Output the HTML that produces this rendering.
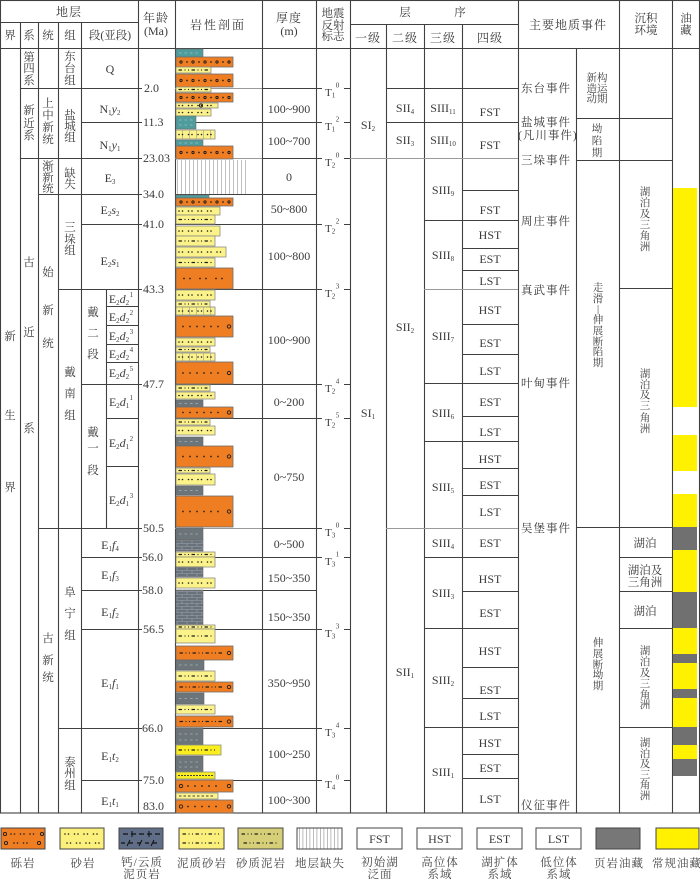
<!DOCTYPE html>
<html><head><meta charset="utf-8">
<style>
html,body{margin:0;padding:0;background:#fff}
svg{display:block}
text{font-family:"Liberation Serif","Noto Serif CJK SC",serif;fill:#3a3a3a}
.c{font-size:11.5px;text-anchor:middle}
.v{font-size:10.5px;text-anchor:middle}
.h{font-size:12px;text-anchor:middle;letter-spacing:1px}
.n{font-size:12px;text-anchor:middle}
.a{font-size:12px}
.e{font-size:11.5px;letter-spacing:1px}
.s{font-size:7px}
.lg{font-size:11.5px;text-anchor:middle;letter-spacing:1px;fill:#444}
.o{fill:#ef7d22;stroke:#6e6e6e;stroke-width:.8}
.y{fill:#fcf28a;stroke:#8c8c80;stroke-width:.8}
.b{fill:#fbee1e;stroke:#8c8c80;stroke-width:.8}
.t{fill:#4f9c9c;stroke:#6e6e6e;stroke-width:.6}
.g{fill:#6c757a;stroke:#666;stroke-width:.6}
.cr1{stroke:#1e1e1e;stroke-width:3.2;stroke-dasharray:0 12;stroke-linecap:round}
.cr2{stroke:#ef7d22;stroke-width:1.3;stroke-dasharray:0 12;stroke-linecap:round}
.cd{stroke:#1e1e1e;stroke-width:1.7;stroke-dasharray:0 12;stroke-linecap:round}
.cd7{stroke:#1e1e1e;stroke-width:1.7;stroke-dasharray:0 7;stroke-linecap:round}
.cds{stroke:#1e1e1e;stroke-width:1.7;stroke-dasharray:0 6 0 10;stroke-linecap:round}
.sn{stroke:#1e1e1e;stroke-width:1.6;stroke-dasharray:0 3.5 0 6;stroke-linecap:round}
.ms{stroke:#1e1e1e;stroke-width:1.2;stroke-dasharray:2.5 3.5 0 3.5 0 3.5;stroke-linecap:round}
.gr{stroke:#a8a690;stroke-dasharray:.7 6.3}
.sh{stroke:#d0d8da;stroke-width:.8;stroke-dasharray:2.5 3;opacity:.6}
.ring{fill:none;stroke:#1e1e1e;stroke-width:.9}
</style></head><body>
<svg width="700" height="879" viewBox="0 0 700 879" xmlns="http://www.w3.org/2000/svg">
<defs>
<pattern id="brick" width="10" height="6" patternUnits="userSpaceOnUse">
<rect width="10" height="6" fill="#69727a"/>
<path d="M0 .5H10M0 3.5H10M2 .5V3.5M7 3.5V6" stroke="#9aa2aa" stroke-width=".6" fill="none"/>
</pattern>
</defs>

<g stroke="#404040" stroke-width="1.1" fill="none">
<rect x="0.5" y="0.5" width="699" height="812.5"/>
<path d="M20.5 22V813M38.5 22V813M58.5 22V813M81.5 22V813M138.5 0V813M175.5 0V813M262.5 0V813M316.5 0V813M350.5 0V813M386.5 24V813M424.5 24V813M462.5 24V813M518.5 0V813M576.5 48V813M619.5 0V813M672.5 0V813M106.5 289V528"/>
<path d="M0 22.5H138M350 24.5H518M0 48.5H700"/>
<path d="M20 88.5H142M262 88.5H322M344 88.5H350M386 88.5H518"/>
<path d="M576 118.5H672"/>
<path d="M81 122.5H142M175 122.5H322M344 122.5H350M386 122.5H518"/>
<path d="M20 158.5H142M262 158.5H322M344 158.5H350"/>
<path d="M576 160.5H672"/>
<path d="M462 190.5H518"/>
<path d="M38 194.5H142M175 194.5H316"/>
<path d="M424 220.5H518"/>
<path d="M81 224.5H142M175 224.5H322M344 224.5H350"/>
<path d="M462 248.5H518M462 270.5H518"/>
<path d="M619 288.5H672"/>
<path d="M58 289.5H142M175 289.5H322M344 289.5H350"/>
<path d="M106 306.5H138M106 325.5H138M106 344.5H138M106 362.5H138"/>
<path d="M462 324.5H518M462 354.5H518"/>
<path d="M81 384.5H142M175 384.5H322M344 384.5H350M424 383.5H518"/>
<path d="M462 416.5H518"/>
<path d="M106 418.5H138M175 418.5H322M344 418.5H350"/>
<path d="M424 441.5H518M106 466.5H138M462 468.5H518M462 495.5H518"/>
<path d="M38 528.5H142M262 528.5H322M344 528.5H350M576 527.5H672"/>
<path d="M81 557.5H142M175 557.5H322M344 557.5H350M424 557.5H518M619 557.5H672"/>
<path d="M81 590.5H142M175 590.5H316M462 591.5H518M619 591.5H672"/>
<path d="M81 629.5H142M175 629.5H322M344 629.5H350M424 628.5H518M619 628.5H672"/>
<path d="M462 667.5H518M462 698.5H518"/>
<path d="M58 728.5H142M175 728.5H322M344 728.5H350M424 727.5H518M619 727.5H672"/>
<path d="M462 754.5H518M462 778.5H518"/>
<path d="M81 780.5H142M175 780.5H322M344 780.5H350"/>
</g>
<g stroke="#9a9a9a" stroke-width="1" fill="none">
<path d="M175 88.5H262M175 158.5H262M350 158.5H518M424 289.5H518M175 528.5H262M386 528.5H518"/>
</g>

<text class="h" x="69" y="16">地层</text>
<text class="c" x="10" y="39">界</text>
<text class="c" x="29" y="39">系</text>
<text class="c" x="48" y="39">统</text>
<text class="c" x="70" y="39">组</text>
<text class="c" x="110" y="39">段(亚段)</text>
<text class="h" x="156" y="22">年龄</text>
<text class="n" x="156" y="35">(Ma)</text>
<text class="h" x="218" y="29" style="letter-spacing:2px">岩性剖面</text>
<text class="h" x="289" y="22">厚度</text>
<text class="n" x="289" y="35">(m)</text>
<text class="c" x="333" y="17">地震</text>
<text class="c" x="333" y="29">反射</text>
<text class="c" x="333" y="40">标志</text>
<text class="c" x="405" y="16">层</text>
<text class="c" x="460" y="16">序</text>
<text class="h" x="368" y="42">一级</text>
<text class="h" x="405" y="42">二级</text>
<text class="h" x="443" y="42">三级</text>
<text class="h" x="490" y="42">四级</text>
<text class="h" x="568" y="29">主要地质事件</text>
<text class="c" x="646" y="22">沉积</text>
<text class="c" x="646" y="34">环境</text>
<text class="c" x="686" y="22">油</text>
<text class="c" x="686" y="34">藏</text>

<text class="c" x="10" y="340">新</text>
<text class="c" x="10" y="419">生</text>
<text class="c" x="10" y="491">界</text>
<text class="c" x="29" y="61">第</text><text class="c" x="29" y="72">四</text><text class="c" x="29" y="84">系</text>
<text class="c" x="29" y="114">新</text><text class="c" x="29" y="127">近</text><text class="c" x="29" y="139">系</text>
<text class="c" x="29" y="266">古</text><text class="c" x="29" y="336">近</text><text class="c" x="29" y="432">系</text>
<text class="c" x="48" y="107">上</text><text class="c" x="48" y="119">中</text><text class="c" x="48" y="131">新</text><text class="c" x="48" y="143">统</text>
<text class="c" x="48" y="170">渐</text><text class="c" x="48" y="181">新</text><text class="c" x="48" y="192">统</text>
<text class="c" x="48" y="276">始</text><text class="c" x="48" y="314">新</text><text class="c" x="48" y="347">统</text>
<text class="c" x="48" y="642">古</text><text class="c" x="48" y="664">新</text><text class="c" x="48" y="681">统</text>
<text class="c" x="70" y="60">东</text><text class="c" x="70" y="72">台</text><text class="c" x="70" y="84">组</text>
<text class="c" x="70" y="119">盐</text><text class="c" x="70" y="130">城</text><text class="c" x="70" y="141">组</text>
<text class="c" x="70" y="177">缺</text><text class="c" x="70" y="188">失</text>
<text class="c" x="70" y="231">三</text><text class="c" x="70" y="243">垛</text><text class="c" x="70" y="254">组</text>
<text class="c" x="70" y="376">戴</text><text class="c" x="70" y="397">南</text><text class="c" x="70" y="419">组</text>
<text class="c" x="70" y="596">阜</text><text class="c" x="70" y="617">宁</text><text class="c" x="70" y="639">组</text>
<text class="c" x="70" y="766">泰</text><text class="c" x="70" y="777">州</text><text class="c" x="70" y="789">组</text>
<text class="n" x="110" y="73">Q</text>
<text class="n" x="110" y="113">N<tspan class="s" dy="2">1</tspan><tspan font-style="italic" dy="-2">y</tspan><tspan class="s" dy="2">2</tspan></text>
<text class="n" x="110" y="149">N<tspan class="s" dy="2">1</tspan><tspan font-style="italic" dy="-2">y</tspan><tspan class="s" dy="2">1</tspan></text>
<text class="n" x="110" y="182">E<tspan class="s" dy="2">3</tspan></text>
<text class="n" x="110" y="214">E<tspan class="s" dy="2">2</tspan><tspan font-style="italic" dy="-2">s</tspan><tspan class="s" dy="2">2</tspan></text>
<text class="n" x="110" y="265">E<tspan class="s" dy="2">2</tspan><tspan font-style="italic" dy="-2">s</tspan><tspan class="s" dy="2">1</tspan></text>
<text class="c" x="93" y="316">戴</text><text class="c" x="93" y="337">二</text><text class="c" x="93" y="358">段</text>
<text class="c" x="93" y="436">戴</text><text class="c" x="93" y="452">一</text><text class="c" x="93" y="474">段</text>
<text class="n" x="121" y="303">E<tspan class="s" dy="2">2</tspan><tspan font-style="italic" dy="-2">d</tspan><tspan class="s" dy="2">2</tspan><tspan class="s" dx="0.5" dy="-8">1</tspan></text>
<text class="n" x="121" y="321">E<tspan class="s" dy="2">2</tspan><tspan font-style="italic" dy="-2">d</tspan><tspan class="s" dy="2">2</tspan><tspan class="s" dx="0.5" dy="-8">2</tspan></text>
<text class="n" x="121" y="340">E<tspan class="s" dy="2">2</tspan><tspan font-style="italic" dy="-2">d</tspan><tspan class="s" dy="2">2</tspan><tspan class="s" dx="0.5" dy="-8">3</tspan></text>
<text class="n" x="121" y="358">E<tspan class="s" dy="2">2</tspan><tspan font-style="italic" dy="-2">d</tspan><tspan class="s" dy="2">2</tspan><tspan class="s" dx="0.5" dy="-8">4</tspan></text>
<text class="n" x="121" y="377">E<tspan class="s" dy="2">2</tspan><tspan font-style="italic" dy="-2">d</tspan><tspan class="s" dy="2">2</tspan><tspan class="s" dx="0.5" dy="-8">5</tspan></text>
<text class="n" x="121" y="406">E<tspan class="s" dy="2">2</tspan><tspan font-style="italic" dy="-2">d</tspan><tspan class="s" dy="2">1</tspan><tspan class="s" dx="0.5" dy="-8">1</tspan></text>
<text class="n" x="121" y="447">E<tspan class="s" dy="2">2</tspan><tspan font-style="italic" dy="-2">d</tspan><tspan class="s" dy="2">1</tspan><tspan class="s" dx="0.5" dy="-8">2</tspan></text>
<text class="n" x="121" y="504">E<tspan class="s" dy="2">2</tspan><tspan font-style="italic" dy="-2">d</tspan><tspan class="s" dy="2">1</tspan><tspan class="s" dx="0.5" dy="-8">3</tspan></text>
<text class="n" x="110" y="549">E<tspan class="s" dy="2">1</tspan><tspan font-style="italic" dy="-2">f</tspan><tspan class="s" dy="2">4</tspan></text>
<text class="n" x="110" y="579">E<tspan class="s" dy="2">1</tspan><tspan font-style="italic" dy="-2">f</tspan><tspan class="s" dy="2">3</tspan></text>
<text class="n" x="110" y="616">E<tspan class="s" dy="2">1</tspan><tspan font-style="italic" dy="-2">f</tspan><tspan class="s" dy="2">2</tspan></text>
<text class="n" x="110" y="687">E<tspan class="s" dy="2">1</tspan><tspan font-style="italic" dy="-2">f</tspan><tspan class="s" dy="2">1</tspan></text>
<text class="n" x="110" y="760">E<tspan class="s" dy="2">1</tspan><tspan font-style="italic" dy="-2">t</tspan><tspan class="s" dy="2">2</tspan></text>
<text class="n" x="110" y="805">E<tspan class="s" dy="2">1</tspan><tspan font-style="italic" dy="-2">t</tspan><tspan class="s" dy="2">1</tspan></text>

<text class="a" x="144" y="92">2.0</text>
<text class="a" x="143" y="126">11.3</text>
<text class="a" x="143" y="162">23.03</text>
<text class="a" x="143" y="198">34.0</text>
<text class="a" x="143" y="228">41.0</text>
<text class="a" x="143" y="293">43.3</text>
<text class="a" x="143" y="388">47.7</text>
<text class="a" x="143" y="532">50.5</text>
<text class="a" x="142" y="561">56.0</text>
<text class="a" x="142" y="594">58.0</text>
<text class="a" x="143" y="633">56.5</text>
<text class="a" x="142" y="732">66.0</text>
<text class="a" x="143" y="784">75.0</text>
<text class="a" x="143" y="810">83.0</text>

<g>
<rect class="t" x="176" y="49" width="27" height="8"/><line class="sh" x1="179" y1="53" x2="200" y2="53"/>
<rect class="o" x="176" y="57" width="57" height="10"/><line class="cr1" x1="181" y1="62" x2="232" y2="62"/><line class="cr2" x1="181" y1="62" x2="232" y2="62"/><line class="cd" x1="187" y1="62" x2="232" y2="62"/>
<rect class="y" x="176" y="67" width="35" height="6"/><line class="ms" x1="179" y1="70" x2="208" y2="70"/>
<rect class="o" x="176" y="74" width="57" height="13"/><line class="cr1" x1="181" y1="80.5" x2="232" y2="80.5"/><line class="cr2" x1="181" y1="80.5" x2="232" y2="80.5"/><line class="cd" x1="187" y1="80.5" x2="232" y2="80.5"/>
<rect class="y" x="176" y="87" width="35" height="5"/><line class="ms" x1="179" y1="89.5" x2="208" y2="89.5"/>
<rect class="o" x="176" y="93" width="57" height="9"/><line class="cr1" x1="181" y1="97.5" x2="232" y2="97.5"/><line class="cr2" x1="181" y1="97.5" x2="232" y2="97.5"/><line class="cd" x1="187" y1="97.5" x2="232" y2="97.5"/>
<rect class="y" x="176" y="103" width="42" height="5"/><line class="sn" x1="179" y1="105.5" x2="215" y2="105.5"/><circle class="ring" cx="201" cy="105.5" r="1.6"/>
<rect class="y" x="176" y="109" width="35" height="7"/><line class="sn" x1="179" y1="112.5" x2="208" y2="112.5"/>
<rect class="t" x="176" y="116" width="20" height="13"/><line class="sh" x1="179" y1="120" x2="194" y2="120"/><line class="sh" x1="179" y1="125" x2="194" y2="125"/>
<rect class="y" x="176" y="130" width="39" height="9"/><line class="gr" x1="182" y1="134.5" x2="215" y2="134.5" stroke-width="9"/><line class="sn" x1="179" y1="134.5" x2="212" y2="134.5"/>
<rect class="t" x="176" y="140" width="27" height="6"/><line class="sh" x1="179" y1="143" x2="200" y2="143"/>
<rect class="o" x="176" y="146" width="57" height="13"/><line class="cr1" x1="181" y1="152.5" x2="232" y2="152.5"/><line class="cr2" x1="181" y1="152.5" x2="232" y2="152.5"/><line class="cd" x1="187" y1="152.5" x2="232" y2="152.5"/>
<line x1="177" y1="177" x2="248" y2="177" stroke="#b0b0b0" stroke-width="34" stroke-dasharray=".8 3.2"/>
<rect class="t" x="176" y="195" width="33" height="3"/>
<rect class="o" x="176" y="198" width="57" height="8"/><line class="cr1" x1="181" y1="202" x2="232" y2="202"/><line class="cr2" x1="181" y1="202" x2="232" y2="202"/><line class="cd" x1="187" y1="202" x2="232" y2="202"/>
<rect class="y" x="176" y="207" width="44" height="8"/><line class="sn" x1="179" y1="211" x2="217" y2="211"/>
<rect class="y" x="176" y="215" width="39" height="9"/><line class="ms" x1="179" y1="219.5" x2="212" y2="219.5"/>
<rect class="y" x="176" y="226" width="44" height="10"/><line class="sn" x1="179" y1="231" x2="217" y2="231"/>
<rect class="y" x="176" y="236" width="39" height="10"/><line class="ms" x1="179" y1="241" x2="212" y2="241"/>
<rect class="y" x="176" y="247" width="50" height="10"/><line class="sn" x1="179" y1="252" x2="223" y2="252"/>
<rect class="y" x="176" y="258" width="39" height="9"/><line class="ms" x1="179" y1="262.5" x2="212" y2="262.5"/>
<rect class="o" x="176" y="268" width="57" height="21"/><line class="cds" x1="184" y1="278.5" x2="228" y2="278.5"/>
<rect class="y" x="176" y="290" width="39" height="10"/><line class="sn" x1="179" y1="295" x2="212" y2="295"/>
<rect class="y" x="176" y="301" width="34" height="6"/><line class="ms" x1="179" y1="304" x2="207" y2="304"/>
<rect class="y" x="176" y="307" width="39" height="8"/><line class="gr" x1="182" y1="311" x2="215" y2="311" stroke-width="8"/><line class="sn" x1="179" y1="311" x2="212" y2="311"/>
<rect class="o" x="176" y="316" width="57" height="21"/><line class="cd7" x1="183" y1="326.5" x2="222" y2="326.5"/><circle class="ring" cx="229" cy="326.5" r="1.7"/>
<rect class="y" x="176" y="338" width="39" height="8"/><line class="sn" x1="179" y1="342" x2="212" y2="342"/>
<rect class="y" x="176" y="347" width="34" height="5"/><line class="ms" x1="179" y1="349.5" x2="207" y2="349.5"/>
<rect class="y" x="176" y="353" width="39" height="8"/><line class="gr" x1="182" y1="357" x2="215" y2="357" stroke-width="8"/><line class="sn" x1="179" y1="357" x2="212" y2="357"/>
<rect class="o" x="176" y="362" width="57" height="22"/><line class="cd7" x1="183" y1="373" x2="222" y2="373"/><circle class="ring" cx="229" cy="373" r="1.7"/>
<rect class="y" x="176" y="385" width="34" height="6"/><line class="ms" x1="179" y1="388" x2="207" y2="388"/>
<rect class="y" x="176" y="392" width="39" height="7"/><line class="sn" x1="179" y1="395.5" x2="212" y2="395.5"/>
<rect class="g" x="176" y="400" width="27" height="7"/><line class="sh" x1="179" y1="403.5" x2="200" y2="403.5"/>
<rect class="o" x="176" y="407" width="57" height="11"/><line class="cd7" x1="183" y1="412.5" x2="222" y2="412.5"/><circle class="ring" cx="229" cy="412.5" r="1.7"/>
<rect class="y" x="176" y="419" width="34" height="6"/><line class="ms" x1="179" y1="422" x2="207" y2="422"/>
<rect class="y" x="176" y="426" width="39" height="9"/><line class="sn" x1="179" y1="430.5" x2="212" y2="430.5"/>
<rect class="g" x="176" y="437" width="27" height="9"/><line class="sh" x1="179" y1="441.5" x2="200" y2="441.5"/>
<rect class="o" x="176" y="446" width="57" height="21"/><line class="cd7" x1="183" y1="456.5" x2="222" y2="456.5"/><circle class="ring" cx="229" cy="456.5" r="1.7"/>
<rect class="y" x="176" y="468" width="34" height="5"/><line class="ms" x1="179" y1="470.5" x2="207" y2="470.5"/>
<rect class="y" x="176" y="474" width="39" height="11"/><line class="sn" x1="179" y1="479.5" x2="212" y2="479.5"/>
<rect class="g" x="176" y="486" width="27" height="9"/><line class="sh" x1="179" y1="490.5" x2="200" y2="490.5"/>
<rect class="o" x="176" y="496" width="57" height="31"/><line class="cd7" x1="183" y1="511.5" x2="222" y2="511.5"/><circle class="ring" cx="229" cy="511.5" r="1.7"/>
<rect class="g" x="176" y="528" width="27" height="12"/><line class="sh" x1="179" y1="534" x2="200" y2="534"/>
<rect x="176" y="540" width="27" height="11" fill="url(#brick)" stroke="#666" stroke-width=".6"/>
<rect class="y" x="176" y="552" width="39" height="5"/><line class="ms" x1="179" y1="554.5" x2="212" y2="554.5"/>
<rect class="y" x="176" y="557" width="39" height="10"/><line class="sn" x1="179" y1="562" x2="212" y2="562"/>
<rect x="176" y="567" width="27" height="10" fill="url(#brick)" stroke="#666" stroke-width=".6"/>
<rect class="y" x="176" y="578" width="39" height="10"/><line class="sn" x1="179" y1="583" x2="212" y2="583"/>
<rect x="176" y="590" width="27" height="35" fill="url(#brick)" stroke="#666" stroke-width=".6"/>
<rect class="y" x="176" y="625" width="39" height="4"/><line class="ms" x1="179" y1="627" x2="212" y2="627"/>
<rect class="y" x="176" y="629" width="39" height="14"/><line class="ms" x1="179" y1="636" x2="212" y2="636"/>
<rect class="o" x="176" y="646" width="57" height="14"/><line class="ms" x1="180" y1="653" x2="224" y2="653"/><circle class="ring" cx="229" cy="653" r="1.7"/>
<rect class="g" x="176" y="660" width="28" height="10"/><line class="sh" x1="179" y1="665" x2="201" y2="665"/>
<rect class="y" x="176" y="671" width="39" height="10"/><line class="ms" x1="179" y1="676" x2="212" y2="676"/>
<rect class="o" x="176" y="682" width="57" height="10"/><line class="ms" x1="180" y1="687" x2="224" y2="687"/><circle class="ring" cx="229" cy="687" r="1.7"/>
<rect class="g" x="176" y="693" width="28" height="11"/><line class="sh" x1="179" y1="698.5" x2="201" y2="698.5"/>
<rect class="y" x="176" y="705" width="39" height="9"/><line class="ms" x1="179" y1="709.5" x2="212" y2="709.5"/>
<rect class="o" x="176" y="716" width="57" height="11"/><line class="ms" x1="180" y1="721.5" x2="224" y2="721.5"/><circle class="ring" cx="229" cy="721.5" r="1.7"/>
<rect class="g" x="176" y="728" width="27" height="17"/><line class="sh" x1="179" y1="734" x2="200" y2="734"/><line class="sh" x1="179" y1="740" x2="200" y2="740"/>
<rect class="b" x="176" y="745" width="45" height="10"/><line class="ms" x1="179" y1="750" x2="218" y2="750"/>
<rect class="g" x="176" y="756" width="27" height="16"/><line class="sh" x1="179" y1="762" x2="200" y2="762"/><line class="sh" x1="179" y1="767" x2="200" y2="767"/>
<rect class="b" x="176" y="772" width="39" height="7"/><line x1="178" y1="775.5" x2="213" y2="775.5" stroke="#444" stroke-width="1" stroke-dasharray="2 1"/>
<rect class="o" x="176" y="780" width="57" height="12"/><circle class="ring" cx="181" cy="786" r="1.7"/><line class="cd7" x1="188" y1="786" x2="222" y2="786"/><circle class="ring" cx="229" cy="786" r="1.7"/>
<rect class="y" x="176" y="793" width="42" height="6"/><line x1="179" y1="796" x2="215" y2="796" stroke="#444" stroke-width="1" stroke-dasharray="2.5 2"/>
<rect class="o" x="176" y="800" width="57" height="13"/><circle class="ring" cx="181" cy="806.5" r="1.7"/><line class="cd7" x1="188" y1="806.5" x2="222" y2="806.5"/><circle class="ring" cx="229" cy="806.5" r="1.7"/>
</g>

<text class="n" x="289" y="113">100~900</text>
<text class="n" x="289" y="145">100~700</text>
<text class="n" x="289" y="181">0</text>
<text class="n" x="289" y="213">50~800</text>
<text class="n" x="289" y="260">100~800</text>
<text class="n" x="289" y="344">100~900</text>
<text class="n" x="289" y="406">0~200</text>
<text class="n" x="289" y="481">0~750</text>
<text class="n" x="289" y="548">0~500</text>
<text class="n" x="289" y="582">150~350</text>
<text class="n" x="289" y="621">150~350</text>
<text class="n" x="289" y="687">350~950</text>
<text class="n" x="289" y="758">100~250</text>
<text class="n" x="289" y="804">100~300</text>

<g font-size="11">
<text x="325" y="96">T<tspan class="s" dy="1.5">1</tspan><tspan class="s" dx="0.5" dy="-10">0</tspan></text>
<text x="325" y="130">T<tspan class="s" dy="1.5">1</tspan><tspan class="s" dx="0.5" dy="-10">2</tspan></text>
<text x="325" y="166">T<tspan class="s" dy="1.5">2</tspan><tspan class="s" dx="0.5" dy="-10">0</tspan></text>
<text x="325" y="232">T<tspan class="s" dy="1.5">2</tspan><tspan class="s" dx="0.5" dy="-10">2</tspan></text>
<text x="325" y="297">T<tspan class="s" dy="1.5">2</tspan><tspan class="s" dx="0.5" dy="-10">3</tspan></text>
<text x="325" y="392">T<tspan class="s" dy="1.5">2</tspan><tspan class="s" dx="0.5" dy="-10">4</tspan></text>
<text x="325" y="426">T<tspan class="s" dy="1.5">2</tspan><tspan class="s" dx="0.5" dy="-10">5</tspan></text>
<text x="325" y="536">T<tspan class="s" dy="1.5">3</tspan><tspan class="s" dx="0.5" dy="-10">0</tspan></text>
<text x="325" y="565">T<tspan class="s" dy="1.5">3</tspan><tspan class="s" dx="0.5" dy="-10">1</tspan></text>
<text x="325" y="637">T<tspan class="s" dy="1.5">3</tspan><tspan class="s" dx="0.5" dy="-10">3</tspan></text>
<text x="325" y="736">T<tspan class="s" dy="1.5">3</tspan><tspan class="s" dx="0.5" dy="-10">4</tspan></text>
<text x="325" y="788">T<tspan class="s" dy="1.5">4</tspan><tspan class="s" dx="0.5" dy="-10">0</tspan></text>
</g>

<text class="n" x="368" y="129">SI<tspan class="s" dy="2">2</tspan></text>
<text class="n" x="368" y="417">SI<tspan class="s" dy="2">1</tspan></text>
<text class="n" x="405" y="112">SII<tspan class="s" dy="2">4</tspan></text>
<text class="n" x="405" y="144">SII<tspan class="s" dy="2">3</tspan></text>
<text class="n" x="405" y="331">SII<tspan class="s" dy="2">2</tspan></text>
<text class="n" x="405" y="676">SII<tspan class="s" dy="2">1</tspan></text>
<text class="n" x="443" y="112">SIII<tspan class="s" dy="2">11</tspan></text>
<text class="n" x="443" y="144">SIII<tspan class="s" dy="2">10</tspan></text>
<text class="n" x="443" y="194">SIII<tspan class="s" dy="2">9</tspan></text>
<text class="n" x="443" y="259">SIII<tspan class="s" dy="2">8</tspan></text>
<text class="n" x="443" y="340">SIII<tspan class="s" dy="2">7</tspan></text>
<text class="n" x="443" y="417">SIII<tspan class="s" dy="2">6</tspan></text>
<text class="n" x="443" y="491">SIII<tspan class="s" dy="2">5</tspan></text>
<text class="n" x="443" y="547">SIII<tspan class="s" dy="2">4</tspan></text>
<text class="n" x="443" y="597">SIII<tspan class="s" dy="2">3</tspan></text>
<text class="n" x="443" y="684">SIII<tspan class="s" dy="2">2</tspan></text>
<text class="n" x="443" y="776">SIII<tspan class="s" dy="2">1</tspan></text>
<text class="n" x="490" y="116">FST</text>
<text class="n" x="490" y="149">FST</text>
<text class="n" x="490" y="214">FST</text>
<text class="n" x="490" y="239">HST</text>
<text class="n" x="490" y="263">EST</text>
<text class="n" x="490" y="285">LST</text>
<text class="n" x="490" y="314">HST</text>
<text class="n" x="490" y="347">EST</text>
<text class="n" x="490" y="375">LST</text>
<text class="n" x="490" y="406">EST</text>
<text class="n" x="490" y="436">LST</text>
<text class="n" x="490" y="463">HST</text>
<text class="n" x="490" y="489">EST</text>
<text class="n" x="490" y="516">LST</text>
<text class="n" x="490" y="547">EST</text>
<text class="n" x="490" y="583">HST</text>
<text class="n" x="490" y="617">EST</text>
<text class="n" x="490" y="655">HST</text>
<text class="n" x="490" y="694">EST</text>
<text class="n" x="490" y="720">LST</text>
<text class="n" x="490" y="747">HST</text>
<text class="n" x="490" y="772">EST</text>
<text class="n" x="490" y="803">LST</text>

<text class="e" x="521" y="92">东台事件</text>
<text class="e" x="521" y="126">盐城事件</text>
<text class="e" x="518" y="139">(凡川事件)</text>
<text class="e" x="521" y="164">三垛事件</text>
<text class="e" x="521" y="225">周庄事件</text>
<text class="e" x="521" y="294">真武事件</text>
<text class="e" x="521" y="387">叶甸事件</text>
<text class="e" x="521" y="532">吴堡事件</text>
<text class="e" x="521" y="809">仪征事件</text>

<text class="v" x="597" y="81">新构</text>
<text class="v" x="597" y="92">造运</text>
<text class="v" x="597" y="102">动期</text>
<text class="v" x="597" y="132">坳</text><text class="v" x="597" y="144">陷</text><text class="v" x="597" y="156">期</text>
<text class="v" x="598" y="291">走</text><text class="v" x="598" y="302">滑</text><text class="v" x="598" y="312">|</text><text class="v" x="598" y="323">伸</text><text class="v" x="598" y="334">展</text><text class="v" x="598" y="345">断</text><text class="v" x="598" y="355">陷</text><text class="v" x="598" y="366">期</text>
<text class="v" x="598" y="646">伸</text><text class="v" x="598" y="657">展</text><text class="v" x="598" y="668">断</text><text class="v" x="598" y="678">坳</text><text class="v" x="598" y="689">期</text>

<text class="v" x="645" y="195">湖</text><text class="v" x="645" y="206">泊</text><text class="v" x="645" y="217">及</text><text class="v" x="645" y="228">三</text><text class="v" x="645" y="239">角</text><text class="v" x="645" y="250">洲</text>
<text class="v" x="645" y="377">湖</text><text class="v" x="645" y="388">泊</text><text class="v" x="645" y="398">及</text><text class="v" x="645" y="409">三</text><text class="v" x="645" y="421">角</text><text class="v" x="645" y="432">洲</text>
<text class="c" x="645" y="547">湖泊</text>
<text class="c" x="645" y="574">湖泊及</text>
<text class="c" x="645" y="586">三角洲</text>
<text class="c" x="645" y="615">湖泊</text>
<text class="v" x="645" y="654">湖</text><text class="v" x="645" y="665">泊</text><text class="v" x="645" y="676">及</text><text class="v" x="645" y="687">三</text><text class="v" x="645" y="698">角</text><text class="v" x="645" y="708">洲</text>
<text class="v" x="645" y="746">湖</text><text class="v" x="645" y="757">泊</text><text class="v" x="645" y="767">及</text><text class="v" x="645" y="778">三</text><text class="v" x="645" y="788">角</text><text class="v" x="645" y="799">洲</text>

<g fill="#fff100">
<rect x="673" y="188" width="24" height="219"/>
<rect x="673" y="435" width="24" height="36"/>
<rect x="673" y="494" width="24" height="33"/>
<rect x="673" y="550" width="24" height="42"/>
<rect x="673" y="628" width="24" height="26"/>
<rect x="673" y="663" width="24" height="26"/>
<rect x="673" y="698" width="24" height="29"/>
<rect x="673" y="745" width="24" height="14"/>
</g>
<g fill="#707070">
<rect x="673" y="527" width="24" height="23"/>
<rect x="673" y="592" width="24" height="36"/>
<rect x="673" y="654" width="24" height="9"/>
<rect x="673" y="689" width="24" height="9"/>
<rect x="673" y="727" width="24" height="18"/>
<rect x="673" y="759" width="24" height="17"/>
</g>

<g stroke="#444" stroke-width="1">
<rect x="1" y="828" width="44" height="21" fill="#ef7d22"/>
<rect x="60" y="828" width="44" height="21" fill="#fbf07c"/>
<rect x="119" y="828" width="44" height="21" fill="#5f6d86"/>
<rect x="179" y="828" width="45" height="21" fill="#fbf07c"/>
<rect x="238" y="828" width="45" height="21" fill="#d6cf78"/>
<rect x="297" y="828" width="45" height="21" fill="#fff"/>
<rect x="357" y="828" width="45" height="21" fill="#fff"/>
<rect x="417" y="828" width="45" height="21" fill="#fff"/>
<rect x="477" y="828" width="45" height="21" fill="#fff"/>
<rect x="536" y="828" width="45" height="21" fill="#fff"/>
<rect x="596" y="828" width="44" height="21" fill="#777"/>
<rect x="656" y="828" width="43" height="21" fill="#fff100"/>
</g>
<circle class="ring" cx="5" cy="834" r="1.6"/><line class="sn" x1="11" y1="834" x2="38" y2="834"/><circle class="ring" cx="42" cy="834" r="1.6"/>
<circle class="ring" cx="6" cy="843" r="1.6"/><line class="sn" x1="14" y1="843" x2="32" y2="843"/><circle class="ring" cx="39" cy="843" r="1.6"/>
<line class="sn" x1="65" y1="834" x2="100" y2="834"/><line class="sn" x1="67" y1="843" x2="100" y2="843"/>
<line x1="123" y1="834" x2="160" y2="834" stroke="#111" stroke-width="1.3" stroke-dasharray="5 3"/>
<path d="M132 831V837M149 831V837" stroke="#111" stroke-width="1"/>
<line x1="121" y1="843" x2="161" y2="843" stroke="#111" stroke-width="1.3" stroke-dasharray="4 4"/>
<path d="M127 846L130 840M139 846L142 840M151 846L154 840" stroke="#111" stroke-width="1"/>
<line class="ms" x1="183" y1="834" x2="220" y2="834"/><line class="ms" x1="183" y1="843" x2="220" y2="843"/>
<line class="ms" x1="242" y1="834" x2="279" y2="834"/><line class="ms" x1="244" y1="843" x2="279" y2="843"/>
<line x1="299" y1="838.5" x2="341" y2="838.5" stroke="#aaa" stroke-width="20" stroke-dasharray=".8 2.7"/>
<text class="n" x="379.5" y="843">FST</text>
<text class="n" x="439.5" y="843">HST</text>
<text class="n" x="499.5" y="843">EST</text>
<text class="n" x="558.5" y="843">LST</text>
<text class="lg" x="23" y="867">砾岩</text>
<text class="lg" x="83" y="867">砂岩</text>
<text class="lg" x="142" y="866">钙/云质</text>
<text class="lg" x="142" y="878">泥页岩</text>
<text class="lg" x="202" y="867">泥质砂岩</text>
<text class="lg" x="261" y="867">砂质泥岩</text>
<text class="lg" x="320" y="867">地层缺失</text>
<text class="lg" x="380" y="866">初始湖</text>
<text class="lg" x="380" y="878">泛面</text>
<text class="lg" x="440" y="866">高位体</text>
<text class="lg" x="440" y="878">系域</text>
<text class="lg" x="500" y="866">湖扩体</text>
<text class="lg" x="500" y="878">系域</text>
<text class="lg" x="559" y="866">低位体</text>
<text class="lg" x="559" y="878">系域</text>
<text class="lg" x="619" y="867">页岩油藏</text>
<text class="lg" x="677" y="867">常规油藏</text>
</svg>
</body></html>
